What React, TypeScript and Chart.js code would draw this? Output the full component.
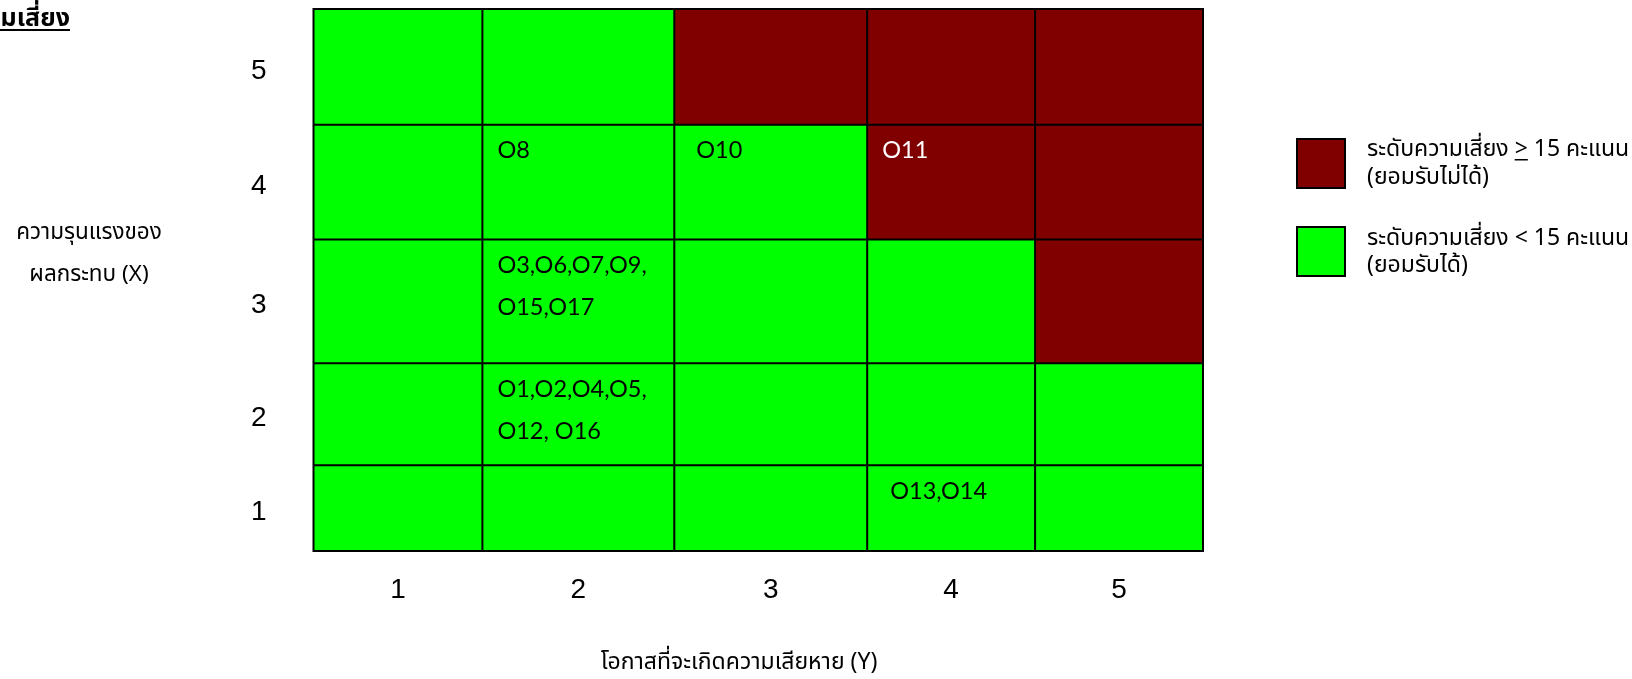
import { useEffect, useRef } from "react";
import { Chart, registerables } from "chart.js";

Chart.register(...registerables);

// Matrix axes: likelihood along the bottom, impact up the side
const likelihoodLevels = [1, 2, 3, 4, 5];
const impactLevels = [1, 2, 3, 4, 5];
const riskThreshold = 15; // score = likelihood × impact; at or above is unacceptable

// Risk items and the cell each one sits in
const itemLikelihood = [2, 3, 4, 2, 2, 4];
const itemImpact = [4, 4, 4, 3, 2, 1];
const itemLines = [
  ["O8"],
  ["O10"],
  ["O11"],
  ["O3,O6,O7,O9,", "O15,O17"],
  ["O1,O2,O4,O5,", "O12, O16"],
  ["O13,O14"],
];

// Text
const chartTitle = "แผนภูมิความเสี่ยง";
const xTitle = "โอกาสที่จะเกิดความเสียหาย (Y)";
const yTitleLines = ["ความรุนแรงของ", "ผลกระทบ (X)"];
const legendHigh = ["ระดับความเสี่ยง ", ">", " 15 คะแนน", "(ยอมรับไม่ได้)"];
const legendLow = ["ระดับความเสี่ยง < 15 คะแนน", "(ยอมรับได้)"];

// Table layout: column widths (likelihood 1→5) and row heights (impact 1→5)
const columnSpan = [169, 192, 193, 168, 168];
const rowSpan = [86, 102, 124, 115, 116];
const itemInset = [15, 22, 15, 15, 15, 23];

const RED = "#800000";
const GREEN = "#00ff00";
const THAI_FONT = "Tahoma, 'Noto Sans Thai', 'DejaVu Sans', sans-serif";
const LABEL_FONT = "Lato, 'Noto Sans', sans-serif";

const cumulative = (spans: number[]) => {
  const out = [0];
  spans.forEach((s) => out.push(out[out.length - 1] + s));
  return out;
};
const xEdges = cumulative(columnSpan);
const yEdges = cumulative(rowSpan);
const centers = (edges: number[]) => edges.slice(0, -1).map((e, i) => (e + edges[i + 1]) / 2);

const cellColor = (lik: number, imp: number) => (lik * imp >= riskThreshold ? RED : GREEN);

const matrixPlugin = {
  id: "riskMatrix",
  beforeDatasetsDraw(chart: any) {
    const { ctx, scales } = chart;
    const xs = scales.x;
    const ys = scales.y;
    ctx.save();
    // cell fills
    likelihoodLevels.forEach((lik, i) => {
      impactLevels.forEach((imp, j) => {
        const l = xs.getPixelForValue(xEdges[i]);
        const r = xs.getPixelForValue(xEdges[i + 1]);
        const t = ys.getPixelForValue(yEdges[j + 1]);
        const b = ys.getPixelForValue(yEdges[j]);
        ctx.fillStyle = cellColor(lik, imp);
        ctx.fillRect(l, t, r - l, b - t);
      });
    });
    // cell borders
    ctx.strokeStyle = "#000";
    ctx.lineWidth = 2;
    const top = ys.getPixelForValue(yEdges[yEdges.length - 1]);
    const bottom = ys.getPixelForValue(0);
    const left = xs.getPixelForValue(0);
    const right = xs.getPixelForValue(xEdges[xEdges.length - 1]);
    ctx.beginPath();
    xEdges.forEach((e) => {
      const p = xs.getPixelForValue(e);
      ctx.moveTo(p, top - 1);
      ctx.lineTo(p, bottom + 1);
    });
    yEdges.forEach((e) => {
      const p = ys.getPixelForValue(e);
      ctx.moveTo(left - 1, p);
      ctx.lineTo(right + 1, p);
    });
    ctx.stroke();
    // item labels
    ctx.font = `23.5px ${LABEL_FONT}`;
    ctx.textAlign = "left";
    ctx.textBaseline = "middle";
    itemLines.forEach((lines, k) => {
      const i = likelihoodLevels.indexOf(itemLikelihood[k]);
      const j = impactLevels.indexOf(itemImpact[k]);
      const l = xs.getPixelForValue(xEdges[i]);
      const t = ys.getPixelForValue(yEdges[j + 1]);
      ctx.fillStyle = cellColor(itemLikelihood[k], itemImpact[k]) === RED ? "#fff" : "#000";
      lines.forEach((line, n) => {
        ctx.fillText(line, l + itemInset[k], t + 26 + n * 42);
      });
    });
    ctx.restore();
  },
  afterDraw(chart: any) {
    const { ctx } = chart;
    ctx.save();
    ctx.fillStyle = "#000";
    ctx.textBaseline = "alphabetic";

    // heading, clipped at the left edge
    ctx.font = `bold 25px ${THAI_FONT}`;
    ctx.textAlign = "right";
    ctx.fillText(chartTitle, 70, 26);
    ctx.fillRect(-400, 29, 470, 2);

    // y axis title
    ctx.font = `22.5px ${THAI_FONT}`;
    ctx.textAlign = "center";
    yTitleLines.forEach((line, n) => ctx.fillText(line, 89, 239 + n * 42));

    // x axis title
    ctx.font = `23px ${THAI_FONT}`;
    ctx.fillText(xTitle, 739, 669);

    // legend
    const boxX = 1297;
    const boxes = [
      { y: 139, color: RED },
      { y: 227, color: GREEN },
    ];
    boxes.forEach((b) => {
      ctx.fillStyle = b.color;
      ctx.fillRect(boxX, b.y, 48, 49);
      ctx.strokeStyle = "#000";
      ctx.lineWidth = 2;
      ctx.strokeRect(boxX, b.y, 48, 49);
    });
    ctx.fillStyle = "#000";
    ctx.textAlign = "left";
    ctx.font = `23px ${THAI_FONT}`;
    const tx = 1367;
    const line1 = legendHigh[0] + legendHigh[1] + legendHigh[2];
    ctx.fillText(line1, tx, 156);
    const preW = ctx.measureText(legendHigh[0]).width;
    const symW = ctx.measureText(legendHigh[1]).width;
    ctx.fillRect(tx + preW, 159, symW, 1.5);
    ctx.fillText(legendHigh[3], tx, 184);
    ctx.fillText(legendLow[0], tx, 245);
    ctx.fillText(legendLow[1], tx, 272);
    ctx.restore();
  },
};

export default function App() {
  const ref = useRef<HTMLCanvasElement>(null);
  useEffect(() => {
    const xCenters = centers(xEdges);
    const yCenters = centers(yEdges);
    const tickFont = { family: "'Liberation Sans', Arial, sans-serif", size: 28, weight: "normal" as const };
    const chart = new Chart(ref.current!, {
      type: "scatter",
      data: { datasets: [] },
      options: {
        animation: false,
        responsive: false,
        devicePixelRatio: 1,
        layout: { padding: { top: 9, right: 429, bottom: 0, left: 0 } },
        plugins: { legend: { display: false }, tooltip: { enabled: false } },
        scales: {
          x: {
            type: "linear",
            position: "bottom",
            min: 0,
            max: xEdges[xEdges.length - 1],
            grid: { display: false, drawTicks: false },
            border: { display: false },
            afterBuildTicks: (s: any) => {
              s.ticks = xCenters.map((v) => ({ value: v }));
            },
            afterFit: (s: any) => {
              s.height = 128;
              s.paddingLeft = 0;
              s.paddingRight = 0;
            },
            ticks: {
              autoSkip: false,
              maxRotation: 0,
              padding: 22,
              color: "#000",
              font: tickFont,
              callback: (_v: any, i: number) => String(likelihoodLevels[i]),
            },
          },
          y: {
            type: "linear",
            position: "left",
            min: 0,
            max: yEdges[yEdges.length - 1],
            grid: { display: false, drawTicks: false },
            border: { display: false },
            afterBuildTicks: (s: any) => {
              s.ticks = yCenters.map((v) => ({ value: v - 4 }));
            },
            afterFit: (s: any) => {
              s.width = 313.5;
              s.paddingTop = 0;
              s.paddingBottom = 0;
            },
            ticks: {
              autoSkip: false,
              crossAlign: "center",
              padding: 47,
              color: "#000",
              font: tickFont,
              callback: (_v: any, i: number) => String(impactLevels[i]),
            },
          },
        },
      },
      plugins: [matrixPlugin],
    } as any);
    return () => chart.destroy();
  }, []);
  return (
    <div style={{ position: "fixed", left: 0, top: 0, width: 1632, height: 679, background: "#fff" }}>
      <canvas ref={ref} width={1632} height={679} style={{ display: "block", width: 1632, height: 679 }} />
    </div>
  );
}
